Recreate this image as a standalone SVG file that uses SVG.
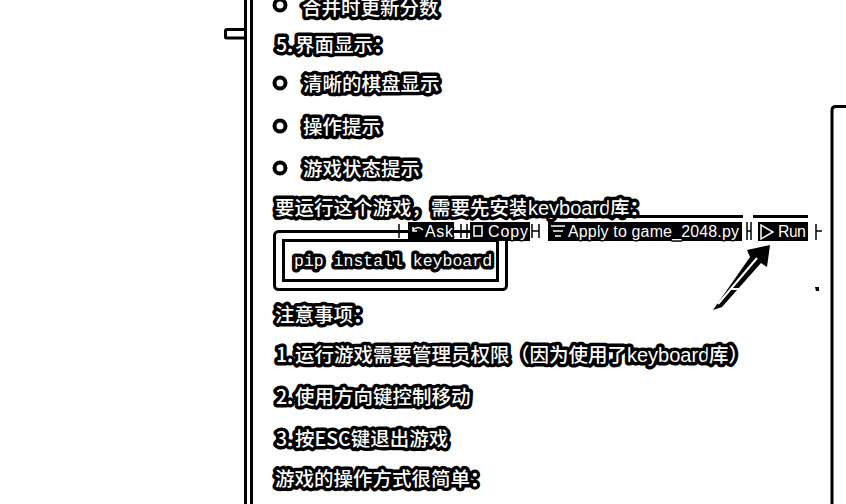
<svg xmlns="http://www.w3.org/2000/svg" width="846" height="504" viewBox="0 0 846 504">
<style>
text{font-family:"Noto Sans CJK SC","Liberation Sans",sans-serif;font-size:19.5px;font-weight:500;fill:#fff;stroke:#000;stroke-width:7px;stroke-linejoin:round;paint-order:stroke}
.a{font-family:"Liberation Sans",sans-serif;font-size:20px}
.m{font-family:"Liberation Mono",monospace;font-size:16.5px;font-weight:400;stroke-width:7px}
.s{font-family:"Liberation Sans",sans-serif;font-size:16px;font-weight:400;stroke-width:3px}
.l{fill:none;stroke:#000;stroke-width:3px}
.b{fill:#fff;stroke:#000;stroke-width:4px}
.i{fill:none;stroke:#fff;stroke-width:1.500px}
.k{fill:#000}
.w{fill:none;stroke:#000;stroke-width:1.500px}
</style>
<rect width="846" height="504" fill="#fff"/>
<g id="frame">
<path class="l" d="M245.500 0V504M251.500 0V504"/>
<path class="l" d="M247 29.500H227Q225.500 29.500 225.500 31V37Q225.500 38 227 38H247"/>
<path class="l" d="M832 504V110Q832 106.500 836 106.500H846"/>
</g>
<g id="text-list">
<circle class="b" cx="280" cy="5" r="5.500"/>
<text x="302" y="15">合并时更新分数</text>
<text x="276" y="52">5.<tspan x="295">界面显示：</tspan></text>
<circle class="b" cx="280" cy="83" r="5.500"/>
<text x="303" y="91">清晰的棋盘显示</text>
<circle class="b" cx="280" cy="126" r="5.500"/>
<text x="303" y="134">操作提示</text>
<circle class="b" cx="280" cy="168" r="5.500"/>
<text x="303" y="176">游戏状态提示</text>
<text x="275" y="215">要运行这个游戏，<tspan x="431">需要先安装</tspan><tspan class="a" x="528">keyboard</tspan><tspan x="610">库：</tspan></text>
</g>
<g id="code-box">
<rect x="274.500" y="231.500" width="232" height="58" rx="4" fill="none" stroke="#000" stroke-width="3"/>
<rect x="283.500" y="240.500" width="214" height="40" fill="none" stroke="#000" stroke-width="3"/>
<text class="m" x="294" y="266" xml:space="preserve">pip install keyboard</text>
</g>
<g id="toolbar">
<path class="k" d="M540 215H743V218H540ZM753 215H808V218H753ZM408 222H454V241H408ZM470 222H530V241H470ZM548 222H742V241H548ZM758 222H808V241H758Z"/>
<path class="i" d="M413 230Q418 225 423 230M413 227V231H417"/>
<text class="s" x="425" y="237" textLength="28">Ask</text>
<path class="i" d="M474 226H482V236H474Z"/>
<text class="s" x="488" y="237" textLength="40">Copy</text>
<path class="i" d="M551 226H565M553 231H563M555 236H561"/>
<text class="s" x="568" y="237" textLength="171">Apply to game_2048.py</text>
<path class="i" d="M761 225L773 232L761 239Z"/>
<text class="s" x="778" y="237" textLength="28">Run</text>
<path class="w" d="M399 224V238M461 224V238M467 224V238M532 224V238M539 224V238M747 222V240M751 222V240M816 224V240M400 231H408M461 231H467M532 231H539M747 231H751M816 231H822"/>
</g>
<g id="connectors">
<path class="k" d="M713 310L750 257L747 250L770 245L767 267L761 263L722 307Z"/>
<path d="M718 304L757 258M731 289H739" stroke="#fff" stroke-width="2" fill="none"/>
<path class="k" d="M815 287h4v4h-3z"/>
</g>
<g id="text-notes">
<text x="275" y="322">注意事项：</text>
<text x="276" y="362">1.<tspan x="295">运行游戏需要管理员权限</tspan><tspan x="510">（因为使用了</tspan><tspan class="a" x="627">keyboard</tspan><tspan x="709">库）</tspan></text>
<text x="276" y="404">2.<tspan x="295">使用方向键控制移动</tspan></text>
<text x="276" y="446">3.<tspan x="295">按ESC键退出游戏</tspan></text>
<text x="275" y="486">游戏的操作方式很简单：</text>
</g>
</svg>
